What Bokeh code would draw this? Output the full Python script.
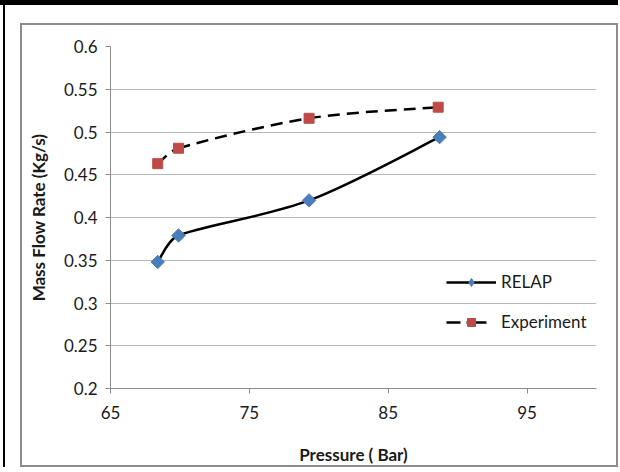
import numpy as np
from bokeh.plotting import figure
from bokeh.layouts import column
from bokeh.models import (Range1d, FixedTicker, Legend, LegendItem, ColumnDataSource)
from bokeh.embed import file_html
from bokeh.resources import INLINE

# ---- data ----
pressure_relap = [68.4, 69.9, 79.3, 88.7]
flow_relap = [0.348, 0.379, 0.420, 0.494]
pressure_exp = [68.4, 69.9, 79.3, 88.6]
flow_exp = [0.463, 0.481, 0.516, 0.529]
x_ticks = [65, 75, 85, 95]
x_tick_labels = ["65", "75", "85", "95"]
y_ticks = [0.2, 0.25, 0.3, 0.35, 0.4, 0.45, 0.5, 0.55, 0.6]
y_tick_labels = ["0.2", "0.25", "0.3", "0.35", "0.4", "0.45", "0.5", "0.55", "0.6"]

FONT = "Lato"
TXT = "#1a1a1a"
FS = "17px"

W, H = 598, 444
BL, BR, BT, BB = 88, 24, 21, 81
X0, X1, Y0, Y1 = 65, 100, 0.2, 0.6


def smooth_segments(xs, ys):
    """Excel-style smoothed line: cubic Bezier segments through the points,
    tangents (P[i+1]-P[i-1])/6, limited relative to each segment's length."""
    sx = (W - BL - BR) / (X1 - X0)
    sy = (H - BT - BB) / (Y1 - Y0)
    P = np.column_stack([np.asarray(xs, float) * sx, np.asarray(ys, float) * sy])
    n = len(P)
    d = {k: [] for k in ("x0", "y0", "x1", "y1", "cx0", "cy0", "cx1", "cy1")}

    def cap(v, seg):
        L = np.hypot(*v)
        lim = 0.35 * seg
        return v * (lim / L) if L > lim else v

    for i in range(n - 1):
        im, ip2 = max(i - 1, 0), min(i + 2, n - 1)
        seg = np.hypot(*(P[i + 1] - P[i]))
        c0 = P[i] + cap((P[i + 1] - P[im]) / 6, seg)
        c1 = P[i + 1] - cap((P[ip2] - P[i]) / 6, seg)
        for key, pt in (("0", P[i]), ("1", P[i + 1])):
            d["x" + key].append(pt[0] / sx); d["y" + key].append(pt[1] / sy)
        d["cx0"].append(c0[0] / sx); d["cy0"].append(c0[1] / sy)
        d["cx1"].append(c1[0] / sx); d["cy1"].append(c1[1] / sy)
    return ColumnDataSource(d)


p = figure(width=W, height=H, x_range=Range1d(X0, X1), y_range=Range1d(Y0, Y1),
           output_backend="svg", toolbar_location=None,
           min_border_left=BL, min_border_right=BR, min_border_top=BT, min_border_bottom=BB)
p.outline_line_color = None
p.background_fill_color = "white"
p.border_fill_color = "white"
p.styles = {"border": "2px solid #8c8c8c"}

# axes
for ax in (p.xaxis[0], p.yaxis[0]):
    ax.axis_line_color = "#8c8c8c"
    ax.major_tick_line_color = "#8c8c8c"
    ax.major_tick_out = 5
    ax.major_tick_in = 0
    ax.minor_tick_line_color = None
    ax.major_label_text_font = FONT
    ax.major_label_text_font_size = FS
    ax.major_label_text_color = TXT
    ax.axis_label_text_font = FONT
    ax.axis_label_text_font_size = FS
    ax.axis_label_text_font_style = "bold"
    ax.axis_label_text_color = TXT

p.xaxis.ticker = FixedTicker(ticks=x_ticks)
p.xaxis.major_label_overrides = dict(zip(x_ticks, x_tick_labels))
p.yaxis.ticker = FixedTicker(ticks=y_ticks)
p.yaxis.major_label_overrides = dict(zip(y_ticks, y_tick_labels))
p.xaxis.axis_label = "Pressure ( Bar)"
p.yaxis.axis_label = "Mass Flow Rate (Kg/s)"
p.xaxis.major_label_standoff = 12
p.yaxis.major_label_standoff = 8
p.xaxis.axis_label_standoff = 22
p.yaxis.axis_label_standoff = 12

p.xgrid.grid_line_color = None
p.ygrid.grid_line_color = "#b8b8b8"
p.ygrid.grid_line_width = 1

# curves
p.bezier(x0="x0", y0="y0", x1="x1", y1="y1", cx0="cx0", cy0="cy0", cx1="cx1", cy1="cy1",
         source=smooth_segments(pressure_relap, flow_relap), line_color="black", line_width=2.5)
p.bezier(x0="x0", y0="y0", x1="x1", y1="y1", cx0="cx0", cy0="cy0", cx1="cx1", cy1="cy1",
         source=smooth_segments(pressure_exp, flow_exp), line_color="black", line_width=2.5,
         line_dash="12 7")

s_relap = p.scatter(pressure_relap, flow_relap, marker="square", angle=np.pi / 4, size=9.5,
                    fill_color="#4a7ebb", line_color="#4a7ebb")
s_exp = p.scatter(pressure_exp, flow_exp, marker="square", size=10,
                  fill_color="#be4b48", line_color="#be4b48")

# legend proxies (a single NaN point: nothing drawn in the plot area)
nan = [float("nan")]
l_relap = p.line(x=nan, y=nan, line_color="black", line_width=2.5)
l_exp = p.line(x=nan, y=nan, line_color="black", line_width=2.5, line_dash="14 6 20 20")
m_relap = p.scatter(x=nan, y=nan, marker="diamond", size=15,
                    fill_color="#4a7ebb", line_color="#4a7ebb")
m_exp = p.scatter(x=nan, y=nan, marker="square", size=10,
                  fill_color="#be4b48", line_color="#be4b48")

legend = Legend(items=[LegendItem(label="RELAP", renderers=[l_relap, m_relap]),
                       LegendItem(label="Experiment", renderers=[l_exp, m_exp])],
                location=(336, 56), padding=0, margin=0, spacing=19,
                glyph_width=50, glyph_height=20, label_standoff=5,
                label_text_font=FONT, label_text_font_size=FS, label_text_color=TXT,
                border_line_color=None, background_fill_alpha=0)
p.add_layout(legend, "center")

inner = column(p, styles={"margin-left": "3px", "border-left": "2px solid black",
                          "padding-left": "15px", "padding-top": "18px",
                          "background": "white"})
outer = column(inner, styles={"border-top": "5px solid black", "background": "white"})

open("out.html", "w").write(file_html(outer, INLINE))
